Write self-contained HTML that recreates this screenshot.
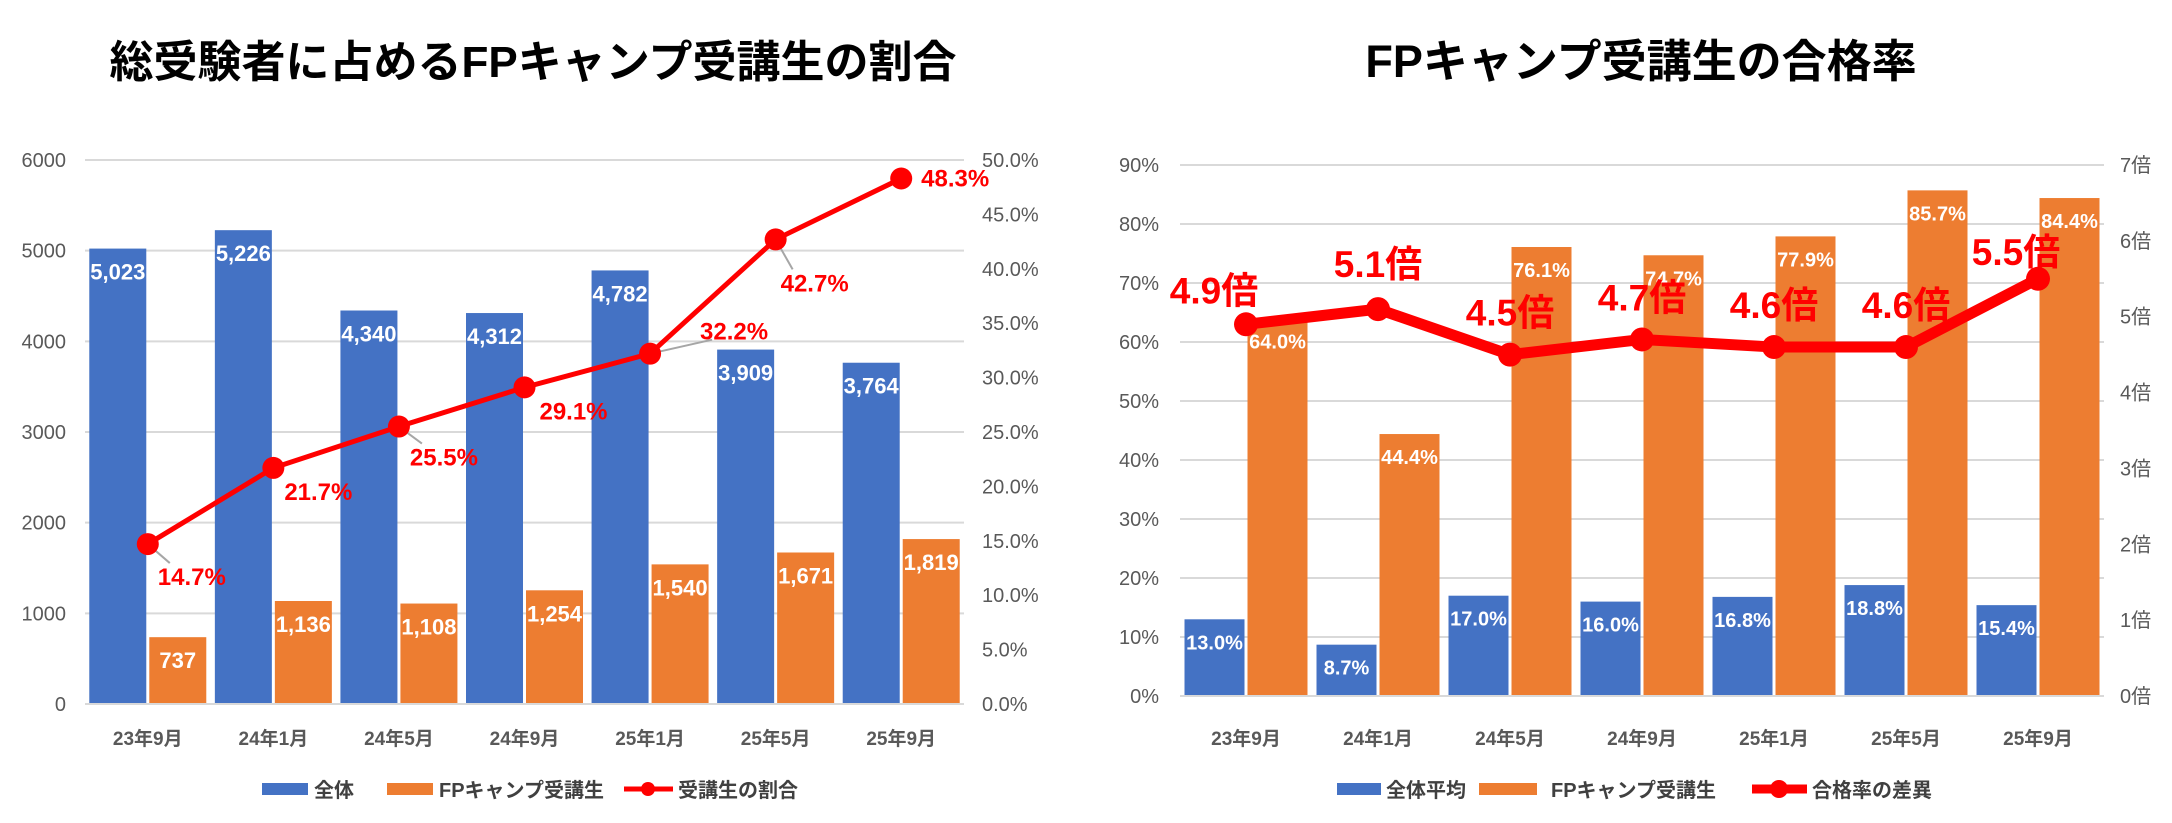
<!DOCTYPE html>
<html><head><meta charset="utf-8">
<style>
html,body{margin:0;padding:0;background:#fff;}
svg{display:block;font-family:"Liberation Sans","Noto Sans CJK JP",sans-serif;}
</style></head>
<body>
<svg id="svg" width="2172" height="823" viewBox="0 0 2172 823" xmlns="http://www.w3.org/2000/svg">
<text x="533" y="77" text-anchor="middle" font-size="44" font-weight="bold" fill="#000">総受験者に占めるFPキャンプ受講生の割合</text>
<text x="1641" y="77" text-anchor="middle" font-size="45" font-weight="bold" fill="#000">FPキャンプ受講生の合格率</text>
<g id="left"></g>
<g id="right"></g>
<g font-size="20" font-weight="bold" fill="#404040">
  <rect x="262" y="783" width="46" height="12" fill="#4472C4"/>
  <text x="314" y="797">全体</text>
  <rect x="387" y="783" width="46" height="12" fill="#ED7D31"/>
  <text x="439" y="797">FPキャンプ受講生</text>
  <line x1="624" y1="789" x2="673" y2="789" stroke="#FF0000" stroke-width="5"/>
  <circle cx="648" cy="789" r="7" fill="#FF0000"/>
  <text x="678" y="797">受講生の割合</text>
</g>
<g font-size="20" font-weight="bold" fill="#404040">
  <rect x="1337" y="783" width="44" height="12" fill="#4472C4"/>
  <text x="1386" y="797">全体平均</text>
  <rect x="1479" y="783" width="58" height="12" fill="#ED7D31"/>
  <text x="1551" y="797">FPキャンプ受講生</text>
  <line x1="1752" y1="789" x2="1807" y2="789" stroke="#FF0000" stroke-width="9"/>
  <circle cx="1779" cy="789" r="9" fill="#FF0000"/>
  <text x="1812" y="797">合格率の差異</text>
</g>
</svg>
<script>
const categories = ["23年9月","24年1月","24年5月","24年9月","25年1月","25年5月","25年9月"];
const totalExaminees = [5023,5226,4340,4312,4782,3909,3764];
const fpExaminees = [737,1136,1108,1254,1540,1671,1819];
const fpShare = [14.7,21.7,25.5,29.1,32.2,42.7,48.3];
const leftTicks = [0,1000,2000,3000,4000,5000,6000];
const rightTicks = [0,5,10,15,20,25,30,35,40,45,50];
const avgPassRate = [13.0,8.7,17.0,16.0,16.8,18.8,15.4];
const fpPassRate = [64.0,44.4,76.1,74.7,77.9,85.7,84.4];
const passMultiple = [4.9,5.1,4.5,4.7,4.6,4.6,5.5];
const pctTicks = [0,10,20,30,40,50,60,70,80,90];
const multTicks = [0,1,2,3,4,5,6,7];

const NS="http://www.w3.org/2000/svg";
function mk(parent,tag,attrs,text){const e=document.createElementNS(NS,tag);for(const k in attrs)e.setAttribute(k,attrs[k]);if(text!==undefined)e.textContent=text;parent.appendChild(e);return e;}
const fmt=n=>n.toLocaleString("en-US");

// LEFT CHART
(function(){
  const g=document.getElementById("left");
  const x0=85,x1=964,yTop=160,yBot=704;
  const yL=v=>yBot-(v/6000)*(yBot-yTop);
  const yR=v=>yBot-(v/50)*(yBot-yTop);
  const cw=(x1-x0)/categories.length;
  const cx=i=>x0+cw*(i+0.5);
  leftTicks.forEach(t=>{
    const l=mk(g,"line",{x1:x0,x2:x1,y1:yL(t),y2:yL(t),stroke:"#D9D9D9","stroke-width":2});
    
    
    const tx=mk(g,"text",{x:66,y:yL(t)+7,"text-anchor":"end","font-size":20,fill:"#595959"},String(t));
    
    
  });
  rightTicks.forEach(t=>{
    const tx=mk(g,"text",{x:982,y:yR(t)+7,"font-size":20,fill:"#595959"},t.toFixed(1)+"%");
    
    
  });
  const bw=57;
  categories.forEach((c,i)=>{
    const bx=cx(i)-bw-1.5;
    const b=mk(g,"rect",{x:bx,y:yL(totalExaminees[i]),width:bw,height:yBot-yL(totalExaminees[i]),fill:"#4472C4"});
    
    
    const bl=mk(g,"text",{x:bx+bw/2,y:yL(totalExaminees[i])+31,"text-anchor":"middle","font-size":22,"font-weight":"bold",fill:"#fff"},fmt(totalExaminees[i]));
    
    
    const ox=cx(i)+1.5;
    const o=mk(g,"rect",{x:ox,y:yL(fpExaminees[i]),width:bw,height:yBot-yL(fpExaminees[i]),fill:"#ED7D31"});
    
    
    const ol=mk(g,"text",{x:ox+bw/2,y:yL(fpExaminees[i])+31,"text-anchor":"middle","font-size":22,"font-weight":"bold",fill:"#fff"},fmt(fpExaminees[i]));
    
    
    const xl=mk(g,"text",{x:cx(i),y:745,"text-anchor":"middle","font-size":19,"font-weight":"bold",fill:"#595959"},c);
    
    
  });
  const ax=mk(g,"line",{x1:x0,x2:x1,y1:yBot,y2:yBot,stroke:"#D9D9D9","stroke-width":2});
  
  
  const pts=fpShare.map((v,i)=>[cx(i),yR(v)]);
  const offs=[[44,33,1],[45,24,0],[45,31,1],[49,24,0],[84,-22,1],[39,44,1],[54,0,0]];
  pts.forEach((p,i)=>{ if(offs[i][2]){
    const ll=mk(g,"line",{x1:p[0],y1:p[1],x2:p[0]+offs[i][0]-22,y2:p[1]+offs[i][1]+(offs[i][1]>0?-14:8),stroke:"#A6A6A6","stroke-width":2});
    
    
  }});
  const pl=mk(g,"polyline",{points:pts.map(p=>p.join(",")).join(" "),fill:"none",stroke:"#FF0000","stroke-width":5});
  
  
  pts.forEach((p,i)=>{
    const m=mk(g,"circle",{cx:p[0],cy:p[1],r:11,fill:"#FF0000"});
    
    
    const t=mk(g,"text",{x:p[0]+offs[i][0],y:p[1]+offs[i][1]+8,"text-anchor":"middle","font-size":24,"font-weight":"bold",fill:"#FF0000"},fpShare[i].toFixed(1)+"%");
    
    
  });
})();

// RIGHT CHART
(function(){
  const g=document.getElementById("right");
  const x0=1180,x1=2104,yTop=165,yBot=696;
  const yL=v=>yBot-(v/90)*(yBot-yTop);
  const yR=v=>yBot-(v/7)*(yBot-yTop);
  const cw=(x1-x0)/categories.length;
  const cx=i=>x0+cw*(i+0.5);
  pctTicks.forEach(t=>{
    const l=mk(g,"line",{x1:x0,x2:x1,y1:yL(t),y2:yL(t),stroke:"#D9D9D9","stroke-width":2});
    
    
    const tx=mk(g,"text",{x:1159,y:yL(t)+7,"text-anchor":"end","font-size":20,fill:"#595959"},t+"%");
    
    
  });
  multTicks.forEach(t=>{
    const tx=mk(g,"text",{x:2120,y:yR(t)+7,"font-size":20,fill:"#595959"},t+"倍");
    
    
  });
  const bw=60;
  categories.forEach((c,i)=>{
    const bx=cx(i)-bw-1.5;
    const b=mk(g,"rect",{x:bx,y:yL(avgPassRate[i]),width:bw,height:yBot-yL(avgPassRate[i]),fill:"#4472C4"});
    
    
    const bl=mk(g,"text",{x:bx+bw/2,y:yL(avgPassRate[i])+30,"text-anchor":"middle","font-size":20,"font-weight":"bold",fill:"#fff"},avgPassRate[i].toFixed(1)+"%");
    
    
    const ox=cx(i)+1.5;
    const o=mk(g,"rect",{x:ox,y:yL(fpPassRate[i]),width:bw,height:yBot-yL(fpPassRate[i]),fill:"#ED7D31"});
    
    
    const ol=mk(g,"text",{x:ox+bw/2,y:yL(fpPassRate[i])+30,"text-anchor":"middle","font-size":20,"font-weight":"bold",fill:"#fff"},fpPassRate[i].toFixed(1)+"%");
    
    
    const xl=mk(g,"text",{x:cx(i),y:745,"text-anchor":"middle","font-size":19,"font-weight":"bold",fill:"#595959"},c);
    
    
  });
  const ax=mk(g,"line",{x1:x0,x2:x1,y1:yBot,y2:yBot,stroke:"#D9D9D9","stroke-width":2});
  
  
  const pts=passMultiple.map((v,i)=>[cx(i),yR(v)]);
  const pl=mk(g,"polyline",{points:pts.map(p=>p.join(",")).join(" "),fill:"none",stroke:"#FF0000","stroke-width":11,"stroke-linejoin":"round"});
  
  
  const offs=[[-32,-34],[0,-45],[0,-42],[0,-42],[0,-42],[0,-42],[-22,-27]];
  pts.forEach((p,i)=>{
    const m=mk(g,"circle",{cx:p[0],cy:p[1],r:12,fill:"#FF0000"});
    
    
    const t=mk(g,"text",{x:p[0]+offs[i][0],y:p[1]+offs[i][1]+13,"text-anchor":"middle","font-size":37,"font-weight":"bold",fill:"#FF0000"},passMultiple[i].toFixed(1)+"倍");
    
    
  });
})();
</script>
</body></html>
